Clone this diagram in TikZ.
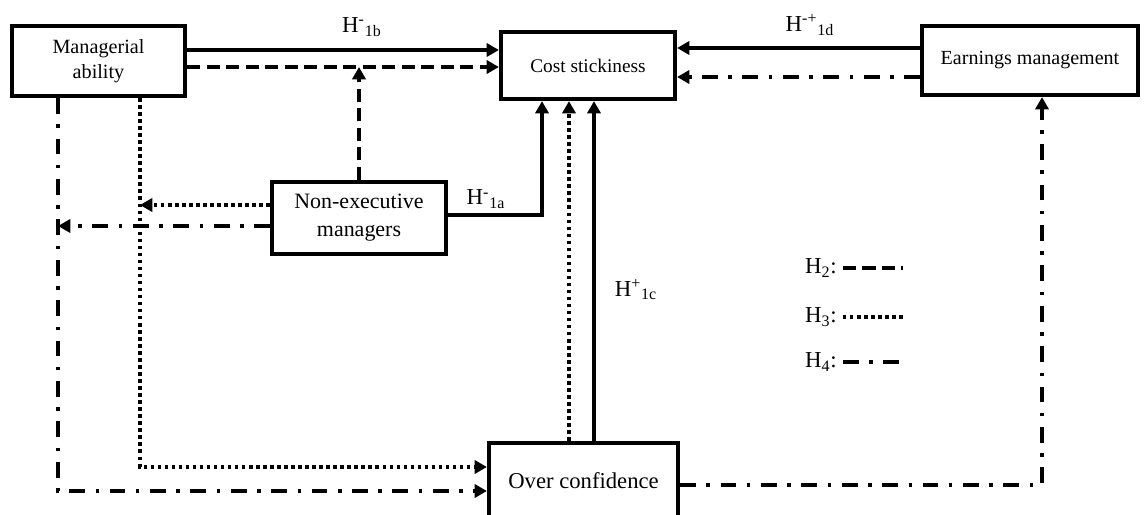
\documentclass[tikz,border=0pt]{standalone}
\usepackage{fontspec}
\setmainfont{Liberation Serif}
\usetikzlibrary{arrows.meta}

\tikzset{
	box/.style={draw, line width=2.4pt, inner sep=2pt, align=center},
	link/.style={line width=2.1pt, -{Triangle[length=7pt,width=7.5pt]}},
	hdash/.style={dash pattern=on 7.5pt off 3.6pt},
	hdot/.style={dash pattern=on 2pt off 2pt},
	hdashdot/.style={dash pattern=on 9pt off 6pt on 2pt off 6pt},
	hlabel/.style={font=\fontsize{13}{15}\selectfont, inner sep=1pt}
}

\begin{document}
\begin{tikzpicture}[x=0.02cm, y=-0.02cm]
		%%%%% START %%%%%
		\useasboundingbox (0,0) rectangle (1146,514);
		
		\node[box, minimum width=3.46cm, minimum height=1.4cm, font=\fontsize{11.5}{14}\selectfont] (mgr) at (98.5,61) {Managerial\\ability};
		\node[box, minimum width=3.48cm, minimum height=1.34cm, font=\fontsize{11}{13}\selectfont] (cost) at (588,65.5) {Cost stickiness};
		\node[box, minimum width=4.32cm, minimum height=1.38cm, font=\fontsize{11.4}{13}\selectfont] (earn) at (1030,60.5) {Earnings management};
		\node[box, minimum width=3.48cm, minimum height=1.44cm, font=\fontsize{12.5}{16}\selectfont] (nonexec) at (359,218) {Non-executive\\managers};
		\node[box, minimum width=3.78cm, minimum height=1.52cm, font=\fontsize{12.9}{15}\selectfont] (overconf) at (583.5,481) {Over confidence};
		
		% H1
		\draw[link] (mgr.east |- 0,50) -- (cost.west |- 0,50);
		\node[hlabel] (h1b) at (362,27) {H\textsuperscript{-}\textsubscript{1b}};
		\draw[link] (nonexec.east |- 0,215) -| (cost.south -| 542,0);
		\node[hlabel] (h1a) at (486,199) {H\textsuperscript{-}\textsubscript{1a}};
		\draw[link] (overconf.north -| 594,0) -- (cost.south -| 594,0);
		\node[hlabel] (h1c) at (636,290) {H\textsuperscript{+}\textsubscript{1c}};
		\draw[link] (earn.west |- 0,48) -- (cost.east |- 0,48);
		\node[hlabel] (h1d) at (810,25) {H\textsuperscript{-+}\textsubscript{1d}};
		
		% H2
		\draw[link, hdash] (mgr.east |- 0,67) -- (cost.west |- 0,67);
		\coordinate (midjoin) at (nonexec.north |- 0,67);
		\draw[link, hdash] (nonexec.north) -- (midjoin);
		
		% H3
		\coordinate (dotcorner) at (140,467);
		\coordinate (dotjoin) at (140,205);
		\draw[link, hdot] (mgr.south -| dotcorner) -- (dotcorner) -- (overconf.west |- dotcorner);
		\draw[link, hdot] (nonexec.west |- dotjoin) -- (dotjoin);
		\draw[link, hdot] (overconf.north -| 569,0) -- (cost.south -| 569,0);
		
		% H4
		\coordinate (ddcorner) at (58,491);
		\coordinate (ddjoin) at (58,226);
		\draw[link, hdashdot] (mgr.south -| ddcorner) -- (ddcorner) -- (overconf.west |- ddcorner);
		\draw[link, hdashdot] (nonexec.west |- ddjoin) -- (ddjoin);
		\draw[link, hdashdot] (earn.west |- 0,77) -- (cost.east |- 0,77);
		\draw[link, hdashdot] (overconf.east |- 0,485) -| (earn.south -| 1042,0);
		
		% legend
		\node[hlabel, anchor=west] (leg2) at (803,268) {H\textsubscript{2}:};
		\node[hlabel, anchor=west] (leg3) at (803,317) {H\textsubscript{3}:};
		\node[hlabel, anchor=west] (leg4) at (803,362) {H\textsubscript{4}:};
		\draw[line width=2.1pt, hdash] ([xshift=0.08cm]leg2.east) -- ++(60,0);
		\draw[line width=2.1pt, hdot] ([xshift=0.08cm]leg3.east) -- ++(60,0);
		\draw[line width=2.1pt, hdashdot] ([xshift=0.08cm]leg4.east) -- ++(60,0);
		
		%%%%% END %%%%%
\end{tikzpicture}
\end{document}
